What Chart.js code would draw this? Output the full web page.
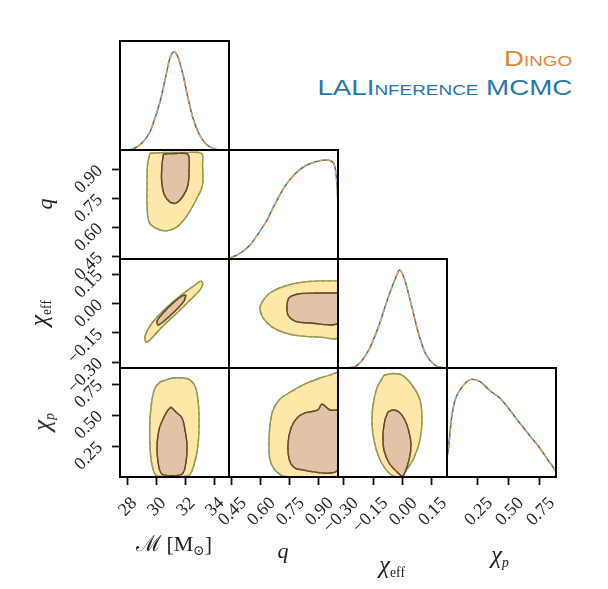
<!DOCTYPE html>
<html><head><meta charset="utf-8">
<script src="https://cdn.jsdelivr.net/npm/chart.js@4.4.0/dist/chart.umd.min.js"></script>
<style>
html,body{margin:0;padding:0;background:#fff;width:608px;height:589px;overflow:hidden;}
body{position:relative}
canvas{position:absolute}
.ax{position:absolute;font-family:'Liberation Serif','DejaVu Serif',serif;color:#222;white-space:nowrap;line-height:1;font-size:22px}
.ax i{font-style:italic}
.ax .chi{font-size:25px}
.ax sub{font-size:0.62em;vertical-align:-0.3em}
.leg{position:absolute;right:36px;font-family:'Liberation Sans',Arial,sans-serif;font-size:22px;line-height:22px;font-variant:small-caps;white-space:nowrap;transform:scaleX(1.26);transform-origin:right center}
</style></head><body>
<script>
// ---------- axis ranges and ticks ----------
const paramLabels = ['M', 'q', 'chi_eff', 'chi_p'];
const rangeM = [27.5, 35.0];
const rangeQ = [0.436, 1.0];
const rangeChiEff = [-0.33, 0.227];
const rangeChiP = [0.0, 0.88];
const ticksM = [28, 30, 32, 34];
const ticksQ = [0.45, 0.60, 0.75, 0.90];
const ticksChiEff = [-0.30, -0.15, 0.00, 0.15];
const ticksChiP = [0.25, 0.50, 0.75];
const densityRange = [0, 1.09];

// ---------- 1D marginals (relative density) ----------
const margM_x = [27.6, 28.05, 28.53, 29.01, 29.56, 29.98, 30.32, 30.67, 30.94, 31.22, 31.49, 31.84, 32.18, 32.52, 32.94, 33.42, 33.90, 34.38, 34.9];
const margM_y = [0, 0, 0.02, 0.07, 0.18, 0.35, 0.52, 0.75, 0.92, 0.983, 0.93, 0.75, 0.52, 0.32, 0.16, 0.06, 0.015, 0, 0];
const margQ_x = [0.437, 0.467, 0.503, 0.545, 0.586, 0.627, 0.674, 0.726, 0.777, 0.829, 0.881, 0.933, 0.964, 0.985, 0.995, 1.0];
const margQ_y = [0.01, 0.03, 0.07, 0.14, 0.25, 0.37, 0.55, 0.73, 0.85, 0.93, 0.97, 0.99, 0.98, 0.91, 0.74, 0.54];
const margChiEff_x = [-0.30, -0.245, -0.177, -0.126, -0.075, -0.040, -0.015, 0.011, 0.045, 0.079, 0.113, 0.164, 0.21];
const margChiEff_y = [0, 0.013, 0.163, 0.397, 0.697, 0.88, 0.98, 0.88, 0.63, 0.363, 0.163, 0.03, 0];
const margChiP_x = [0.0, 0.010, 0.038, 0.065, 0.105, 0.159, 0.199, 0.266, 0.35, 0.428, 0.51, 0.589, 0.67, 0.751, 0.82, 0.872, 0.88];
const margChiP_y = [0.2, 0.27, 0.60, 0.77, 0.87, 0.953, 0.977, 0.953, 0.86, 0.787, 0.665, 0.537, 0.41, 0.287, 0.16, 0.07, 0.05];

// ---------- 2D credible contours (outer 90%, inner 50%) ----------
const cMq_outer_x = [29.56, 30.6, 31.97, 33.12, 33.18, 33.18, 32.87, 32.18, 31.49, 30.8, 30.12, 29.5, 29.36, 29.36, 29.39];
const cMq_outer_y = [0.983, 0.987, 0.987, 0.982, 0.922, 0.819, 0.762, 0.668, 0.606, 0.583, 0.59, 0.627, 0.715, 0.819, 0.922];
const cMq_inner_x = [30.49, 31.35, 32.18, 32.25, 32.18, 31.84, 31.35, 30.94, 30.53, 30.36, 30.39];
const cMq_inner_y = [0.979, 0.982, 0.977, 0.896, 0.819, 0.762, 0.725, 0.73, 0.772, 0.844, 0.922];

const cMce_outer_x = [33.21, 33.01, 32.32, 31.49, 30.46, 29.56, 29.29, 29.22, 29.70, 30.60, 31.63, 32.66, 33.07];
const cMce_outer_y = [0.099, 0.069, 0.017, -0.044, -0.115, -0.187, -0.197, -0.166, -0.100, -0.028, 0.038, 0.094, 0.115];
const cMce_inner_x = [32.04, 31.90, 31.29, 30.53, 30.12, 30.05, 30.46, 31.15, 31.77];
const cMce_inner_y = [0.043, 0.012, -0.039, -0.090, -0.110, -0.090, -0.049, 0.002, 0.038];

const cMcp_outer_x = [30.25, 31.15, 32.18, 32.66, 32.87, 32.94, 32.87, 32.59, 32.18, 30.05, 29.70, 29.56, 29.56, 29.70, 29.91];
const cMcp_outer_y = [0.767, 0.799, 0.791, 0.735, 0.622, 0.460, 0.259, 0.097, 0.008, 0.008, 0.097, 0.259, 0.460, 0.622, 0.719];
const cMcp_inner_x = [31.01, 31.35, 31.77, 31.97, 32.11, 32.04, 31.77, 30.39, 30.12, 30.05, 30.18, 30.46, 30.80];
const cMcp_inner_y = [0.565, 0.525, 0.476, 0.380, 0.259, 0.121, 0.024, 0.024, 0.121, 0.259, 0.380, 0.468, 0.541];

const cQce_outer_x = [1.0, 0.907, 0.819, 0.726, 0.648, 0.607, 0.596, 0.612, 0.658, 0.726, 0.803, 0.907, 1.0];
const cQce_outer_y = [0.115, 0.115, 0.109, 0.089, 0.053, 0.007, -0.028, -0.074, -0.120, -0.151, -0.166, -0.172, -0.172];
const cQce_inner_x = [1.0, 0.881, 0.793, 0.746, 0.736, 0.741, 0.777, 0.855, 1.0];
const cQce_inner_y = [0.053, 0.053, 0.048, 0.028, -0.013, -0.059, -0.090, -0.100, -0.100];

const cQcp_outer_x = [1.0, 0.959, 0.907, 0.829, 0.762, 0.700, 0.664, 0.648, 0.643, 0.648, 0.674, 0.726, 1.0];
const cQcp_outer_y = [0.848, 0.823, 0.799, 0.751, 0.694, 0.630, 0.541, 0.420, 0.259, 0.137, 0.057, 0.004, 0.004];
const cQcp_inner_x = [1.0, 0.959, 0.917, 0.896, 0.829, 0.788, 0.757, 0.741, 0.752, 0.788, 1.0];
const cQcp_inner_y = [0.541, 0.541, 0.589, 0.541, 0.517, 0.476, 0.396, 0.259, 0.121, 0.065, 0.057];

const cCecp_outer_x = [-0.095, -0.049, -0.003, 0.048, 0.089, 0.099, 0.089, 0.058, 0.012, -0.023, -0.064, -0.110, -0.141, -0.156, -0.151, -0.131];
const cCecp_outer_y = [0.823, 0.836, 0.823, 0.743, 0.622, 0.460, 0.299, 0.154, 0.040, 0.0, 0.024, 0.121, 0.259, 0.420, 0.581, 0.719];
const cCecp_inner_x = [-0.075, -0.049, -0.018, 0.012, 0.033, 0.043, 0.033, 0.002, -0.023, -0.069, -0.095, -0.100, -0.090];
const cCecp_inner_y = [0.525, 0.541, 0.525, 0.460, 0.363, 0.259, 0.137, 0.008, 0.032, 0.113, 0.218, 0.339, 0.460];

// ---------- layout / style ----------
const COLX = [120, 229, 338, 447, 556];
const ROWY = [41, 150, 259, 368, 477];
const PAD = 30, AXW = 60;
const colorLAL = '#2b6fa8', colorDINGO = '#f0a04b';

const ranges = [rangeM, rangeQ, rangeChiEff, rangeChiP];
const ticks = [ticksM, ticksQ, ticksChiEff, ticksChiP];
const fmts = [
  v => String(v),
  v => (v < 0 ? '\u2212' : '') + Math.abs(v).toFixed(2),
  v => (v < 0 ? '\u2212' : '') + Math.abs(v).toFixed(2),
  v => (v < 0 ? '\u2212' : '') + Math.abs(v).toFixed(2)
];
const xLabelShift = [7, 12, 12, 12];
const marginals = [[margM_x, margM_y], [margQ_x, margQ_y], [margChiEff_x, margChiEff_y], [margChiP_x, margChiP_y]];
const contours = {
  '0-1': [cMq_outer_x, cMq_outer_y, cMq_inner_x, cMq_inner_y],
  '0-2': [cMce_outer_x, cMce_outer_y, cMce_inner_x, cMce_inner_y],
  '0-3': [cMcp_outer_x, cMcp_outer_y, cMcp_inner_x, cMcp_inner_y],
  '1-2': [cQce_outer_x, cQce_outer_y, cQce_inner_x, cQce_inner_y],
  '1-3': [cQcp_outer_x, cQcp_outer_y, cQcp_inner_x, cQcp_inner_y],
  '2-3': [cCecp_outer_x, cCecp_outer_y, cCecp_inner_x, cCecp_inner_y]
};

const framePlugin = {
  id: 'frame',
  afterDraw(chart) {
    const a = chart.chartArea, ctx = chart.ctx;
    ctx.save();
    ctx.strokeStyle = '#000';
    ctx.lineWidth = 2;
    ctx.strokeRect(a.left, a.top, a.right - a.left, a.bottom - a.top);
    ctx.restore();
  }
};

function closed(xs, ys) {
  const p = xs.map((x, i) => ({x: x, y: ys[i]}));
  p.push({x: xs[0], y: ys[0]});
  return p;
}
function contourSets(k) {
  const [ox, oy, ix, iy] = contours[k];
  const base = {showLine: true, pointRadius: 0, tension: 0.3, borderWidth: 1.4};
  return [
    Object.assign({}, base, {label: 'DINGO 50%', data: closed(ix, iy), borderColor: '#7a5230', borderDash: [4, 2.5], fill: false, order: 1}),
    Object.assign({}, base, {label: 'LALInference 50%', data: closed(ix, iy), borderColor: '#56381d', backgroundColor: '#e3c3a7', fill: 'shape', order: 2}),
    Object.assign({}, base, {label: 'DINGO 90%', data: closed(ox, oy), borderColor: '#a49a48', borderDash: [4, 2.5], fill: false, order: 3}),
    Object.assign({}, base, {label: 'LALInference 90%', data: closed(ox, oy), borderColor: '#7f9a5c', backgroundColor: '#fde8a9', fill: 'shape', order: 4})
  ];
}
function margSets(i) {
  const [xs, ys] = marginals[i];
  const p = xs.map((x, j) => ({x: x, y: ys[j]}));
  const base = {showLine: true, pointRadius: 0, cubicInterpolationMode: 'monotone', borderWidth: 1.5, fill: false};
  return [
    Object.assign({}, base, {label: 'DINGO', data: p, borderColor: colorDINGO, borderDash: [5, 3], order: 1}),
    Object.assign({}, base, {label: 'LALInference MCMC', data: p, borderColor: colorLAL, order: 2})
  ];
}

function scaleOpts(show, rng, tk, fmt, isX, shift) {
  return {
    type: 'linear', min: rng[0], max: rng[1], display: show,
    afterBuildTicks: s => { if (tk) s.ticks = tk.map(v => ({value: v})); },
    afterFit: s => {
      if (show) { if (isX) s.height = AXW; else s.width = AXW; }
      s.paddingLeft = s.paddingRight = s.paddingTop = s.paddingBottom = 0;
    },
    ticks: {
      autoSkip: false, minRotation: 45, maxRotation: 45,
      font: {family: "'Liberation Serif','DejaVu Serif',serif", size: 18},
      color: '#222', padding: isX ? 8 : 12, labelOffset: isX ? shift : -1,
      callback: v => fmt ? fmt(v) : ''
    },
    grid: {drawOnChartArea: false, drawTicks: true, tickLength: 8, tickWidth: 1.8, tickColor: '#111'},
    border: {display: false}
  };
}

function makePanel(r, c) {
  const showX = r === 3, showY = c === 0 && r > 0;
  const w = COLX[c + 1] - COLX[c], h = ROWY[r + 1] - ROWY[r];
  const left = COLX[c] - PAD - (showY ? AXW : 0);
  const top = ROWY[r] - PAD;
  const cw = w + 2 * PAD + (showY ? AXW : 0);
  const ch = h + 2 * PAD + (showX ? AXW : 0);
  const cv = document.createElement('canvas');
  cv.width = cw; cv.height = ch;
  cv.style.left = left + 'px'; cv.style.top = top + 'px';
  cv.style.width = cw + 'px'; cv.style.height = ch + 'px';
  document.body.appendChild(cv);
  const diag = r === c;
  const datasets = diag ? margSets(r) : contourSets(c + '-' + r);
  new Chart(cv, {
    type: 'scatter',
    data: {datasets: datasets},
    options: {
      responsive: false, animation: false, devicePixelRatio: window.devicePixelRatio || 1,
      layout: {padding: PAD},
      plugins: {legend: {display: false}, tooltip: {enabled: false}},
      scales: {
        x: scaleOpts(showX, ranges[c], ticks[c], fmts[c], true, xLabelShift[c]),
        y: diag ? scaleOpts(false, densityRange, null, null, false, 0)
                : scaleOpts(showY, ranges[r], ticks[r], fmts[r], false, 0)
      }
    },
    plugins: [framePlugin]
  });
}

for (let r = 0; r < 4; r++) for (let c = 0; c <= r; c++) makePanel(r, c);
</script>

<div class="leg" style="top:48px;color:#e3883a">Dingo</div>
<div class="leg" style="top:77px;color:#2a76ad">LALInference MCMC</div>

<div class="ax" style="left:45px;top:204px;transform:translate(-50%,-50%) rotate(-90deg)"><i>q</i></div>
<div class="ax" style="left:40px;top:313px;transform:translate(-50%,-50%) rotate(-90deg)"><i class="chi">χ</i><sub>eff</sub></div>
<div class="ax" style="left:43px;top:422px;transform:translate(-50%,-50%) rotate(-90deg)"><i class="chi">χ</i><sub><i>p</i></sub></div>

<div class="ax" style="left:174px;top:545px;transform:translate(-50%,-50%)">ℳ [M<sub>⊙</sub>]</div>
<div class="ax" style="left:283px;top:551px;transform:translate(-50%,-50%)"><i>q</i></div>
<div class="ax" style="left:392px;top:566px;transform:translate(-50%,-50%)"><i class="chi">χ</i><sub>eff</sub></div>
<div class="ax" style="left:500px;top:556px;transform:translate(-50%,-50%)"><i class="chi">χ</i><sub><i>p</i></sub></div>
</body></html>
